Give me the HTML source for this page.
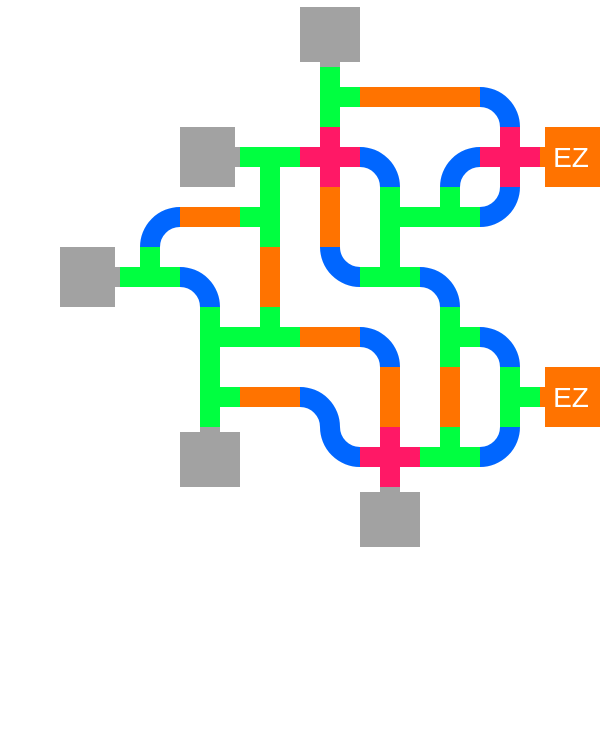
<!DOCTYPE html>
<html><head><meta charset="utf-8"><style>
html,body{margin:0;padding:0;background:#fff;}
svg{display:block;}
</style></head><body>
<svg width="602" height="729" viewBox="0 0 602 729" xmlns="http://www.w3.org/2000/svg">
<g fill="#a2a2a2">
<rect x="300" y="7" width="60" height="55"/><rect x="320" y="62" width="20" height="5"/>
<rect x="180" y="127" width="55" height="60"/><rect x="235" y="147" width="5" height="20"/>
<rect x="60" y="247" width="55" height="60"/><rect x="115" y="267" width="5" height="20"/>
<rect x="180" y="432" width="60" height="55"/><rect x="200" y="427" width="20" height="5"/>
<rect x="360" y="492" width="60" height="55"/><rect x="380" y="487" width="20" height="5"/>
</g>
<g fill="#ff7300">
<rect x="545" y="127" width="55" height="60"/><rect x="540" y="147" width="5" height="20"/>
<rect x="545" y="367" width="55" height="60"/><rect x="540" y="387" width="5" height="20"/>
</g>
<g stroke-width="20" fill="none" stroke-linecap="butt">
<g stroke="#00ff40">
<path d="M330 67V127M320 97H360"/>
<path d="M240 157H300M270 147V187"/>
<path d="M240 217H280M270 187V247"/>
<path d="M390 187V247M380 217H420"/>
<path d="M420 217H480M450 187V227"/>
<path d="M120 277H180M150 247V287"/>
<path d="M360 277H420M390 247V287"/>
<path d="M210 307V367M200 337H240"/>
<path d="M240 337H300M270 307V347"/>
<path d="M450 307V367M440 337H480"/>
<path d="M210 367V427M200 397H240"/>
<path d="M510 367V427M500 397H540"/>
<path d="M420 457H480M450 427V467"/>
</g>
<g stroke="#ff7300">
<path d="M360 97H480"/>
<path d="M180 217H240"/>
<path d="M330 187V247"/>
<path d="M270 247V307"/>
<path d="M300 337H360"/>
<path d="M240 397H300"/>
<path d="M390 367V427"/>
<path d="M450 367V427"/>
</g>
<g stroke="#ff1866">
<path d="M300 157H360M330 127V187"/>
<path d="M480 157H540M510 127V187"/>
<path d="M360 457H420M390 427V487"/>
</g>
<g stroke="#0066ff">
<path d="M480 97A30 30 0 0 1 510 127"/>
<path d="M360 157A30 30 0 0 1 390 187"/>
<path d="M480 157A30 30 0 0 0 450 187"/>
<path d="M180 217A30 30 0 0 0 150 247"/>
<path d="M510 187A30 30 0 0 1 480 217"/>
<path d="M180 277A30 30 0 0 1 210 307"/>
<path d="M330 247A30 30 0 0 0 360 277"/>
<path d="M420 277A30 30 0 0 1 450 307"/>
<path d="M360 337A30 30 0 0 1 390 367"/>
<path d="M480 337A30 30 0 0 1 510 367"/>
<path d="M300 397A30 30 0 0 1 330 427"/>
<path d="M330 427A30 30 0 0 0 360 457"/>
<path d="M510 427A30 30 0 0 1 480 457"/>
</g>
</g>
<g fill="#fff" font-family="Liberation Sans, sans-serif" font-size="28" text-anchor="middle">
<text x="571" y="167">EZ</text>
<text x="571" y="407">EZ</text>
</g>
</svg>
</body></html>
